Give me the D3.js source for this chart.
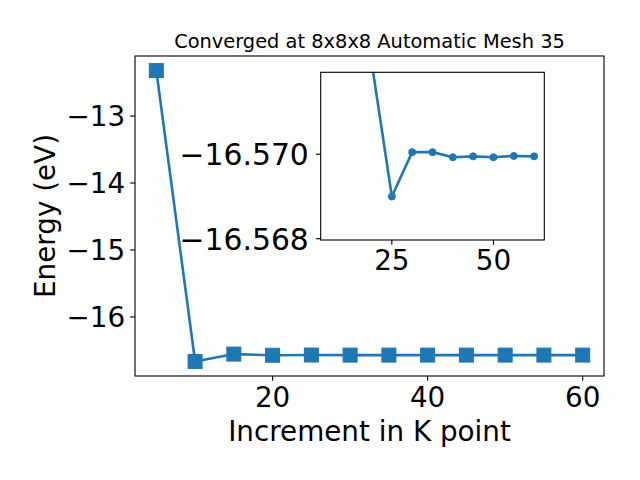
<!DOCTYPE html>
<html><head><meta charset="utf-8">
<script src="https://cdn.jsdelivr.net/npm/d3@7"></script>
<style>body{margin:0;background:#fff}svg{display:block}text{font-family:"DejaVu Sans",sans-serif;fill:#000}</style>
</head><body>
<svg id="c" width="640" height="480"></svg>
<script>
const kpoints = [5,10,15,20,25,30,35,40,45,50,55,60];
const energies = [-12.32,-16.665,-16.555,-16.5722,-16.5690,-16.57005,-16.57005,-16.56993,-16.56995,-16.56993,-16.56996,-16.56995];
const mainXTicks = [20,40,60];
const mainYTicks = [-13,-14,-15,-16];
const insetXTicks = [25,50];
const insetYTicks = [-16.570,-16.568];
const insetStart = 20;
const titleText = "Converged at 8x8x8 Automatic Mesh 35";
const xLabel = "Increment in K point";
const yLabel = "Energy (eV)";

const color = "#1f77b4";
const fmtMinus = s => s.replace("-", "\u2212");
const svg = d3.select("#c");
const data = kpoints.map((k,i)=>({k, e: energies[i]}));

// main axes
const M = {l:135, r:604, t:56, b:376};
const xExt = d3.extent(kpoints), yExt = d3.extent(energies);
const xm = (xExt[1]-xExt[0])*0.05, ym = (yExt[1]-yExt[0])*0.05;
const x = d3.scaleLinear().domain([xExt[0]-xm, xExt[1]+xm]).range([M.l, M.r]);
const y = d3.scaleLinear().domain([yExt[0]-ym, yExt[1]+ym]).range([M.b, M.t]);
const tl = 4.86;

const gm = svg.append("g");
gm.append("defs").append("clipPath").attr("id","mclip").append("rect")
  .attr("x",M.l).attr("y",M.t).attr("width",M.r-M.l).attr("height",M.b-M.t);
const line = d3.line().x(d=>x(d.k)).y(d=>y(d.e));
gm.append("path").datum(data).attr("d",line).attr("fill","none").attr("stroke",color)
  .attr("stroke-width",2.6).attr("clip-path","url(#mclip)");
gm.selectAll("rect.m").data(data).join("rect").attr("class","m")
  .attr("x",d=>x(d.k)-7).attr("y",d=>y(d.e)-7).attr("width",14).attr("height",14)
  .attr("fill",color).attr("stroke",color).attr("stroke-width",1);
gm.append("rect").attr("x",M.l).attr("y",M.t).attr("width",M.r-M.l).attr("height",M.b-M.t)
  .attr("fill","none").attr("stroke","#000").attr("stroke-width",1.1);
mainXTicks.forEach(v=>{
  gm.append("line").attr("x1",x(v)).attr("x2",x(v)).attr("y1",M.b).attr("y2",M.b+tl).attr("stroke","#000").attr("stroke-width",1.1);
  gm.append("text").attr("x",x(v)).attr("y",407).attr("text-anchor","middle").attr("font-size",27.8).text(fmtMinus(String(v)));
});
mainYTicks.forEach(v=>{
  gm.append("line").attr("x1",M.l-tl).attr("x2",M.l).attr("y1",y(v)).attr("y2",y(v)).attr("stroke","#000").attr("stroke-width",1.1);
  gm.append("text").attr("x",M.l-tl-5).attr("y",y(v)+10.2).attr("text-anchor","end").attr("font-size",27.8).text(fmtMinus(String(v)));
});
gm.append("text").attr("x",(M.l+M.r)/2).attr("y",441).attr("text-anchor","middle").attr("font-size",27.8).text(xLabel);
gm.append("text").attr("transform",`translate(55,${(M.t+M.b)/2}) rotate(-90)`).attr("text-anchor","middle").attr("font-size",27.8).text(yLabel);
gm.append("text").attr("x",(M.l+M.r)/2).attr("y",48).attr("text-anchor","middle").attr("font-size",19.4).text(titleText);

// inset
const I = {l:320.7, r:544.3, t:72.3, b:240};
const ix = d3.scaleLinear().domain([7.5, 62.5]).range([I.l, I.r]);
const iy = d3.scaleLinear().domain([-16.56797, -16.57194]).range([I.b, I.t]);
const gi = svg.append("g");
gi.append("rect").attr("x",I.l).attr("y",I.t).attr("width",I.r-I.l).attr("height",I.b-I.t).attr("fill","#fff");
gi.append("defs").append("clipPath").attr("id","iclip").append("rect")
  .attr("x",I.l).attr("y",I.t).attr("width",I.r-I.l).attr("height",I.b-I.t);
const idata = data.filter(d=>d.k>=insetStart);
const iline = d3.line().x(d=>ix(d.k)).y(d=>iy(d.e));
const gic = gi.append("g").attr("clip-path","url(#iclip)");
gic.append("path").datum(idata).attr("d",iline).attr("fill","none").attr("stroke",color).attr("stroke-width",2.6);
gic.selectAll("circle").data(idata).join("circle").attr("cx",d=>ix(d.k)).attr("cy",d=>iy(d.e)).attr("r",3.5)
  .attr("fill",color).attr("stroke",color).attr("stroke-width",1);
gi.append("rect").attr("x",I.l).attr("y",I.t).attr("width",I.r-I.l).attr("height",I.b-I.t)
  .attr("fill","none").attr("stroke","#000").attr("stroke-width",1.1);
insetXTicks.forEach(v=>{
  gi.append("line").attr("x1",ix(v)).attr("x2",ix(v)).attr("y1",I.b).attr("y2",I.b+tl).attr("stroke","#000").attr("stroke-width",1.1);
  gi.append("text").attr("x",ix(v)).attr("y",270).attr("text-anchor","middle").attr("font-size",27.8).text(String(v));
});
insetYTicks.forEach(v=>{
  gi.append("line").attr("x1",I.l-tl).attr("x2",I.l).attr("y1",iy(v)).attr("y2",iy(v)).attr("stroke","#000").attr("stroke-width",1.1);
  gi.append("text").attr("x",I.l-tl-7).attr("y",iy(v)+10.8).attr("text-anchor","end").attr("font-size",29.8).text(fmtMinus(v.toFixed(3)));
});
</script>
</body></html>
